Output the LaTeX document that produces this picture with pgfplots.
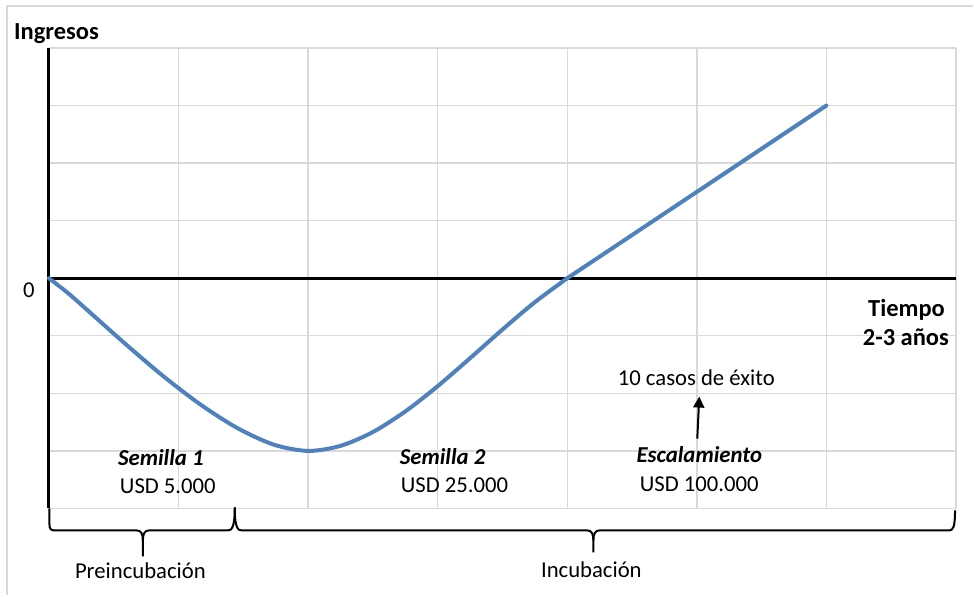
\documentclass[border=0pt]{standalone}
\usepackage{fontspec}
\setmainfont{Carlito}
\usepackage{pgfplots}
\pgfplotsset{compat=1.18}
\usetikzlibrary{arrows.meta}
\definecolor{curveblue}{RGB}{79,129,189}
\definecolor{gridgray}{RGB}{217,217,217}
\begin{document}
\begin{tikzpicture}
\path (0,0) rectangle (974pt,596pt);
\begin{axis}[
  at={(49pt,87pt)}, anchor=south west,
  scale only axis, width=908pt, height=461pt,
  xmin=0, xmax=7, ymin=-4, ymax=4,
  xtick={0,...,7}, ytick={-4,...,4},
  xticklabels={}, yticklabels={},
  major tick length=0pt,
  grid=major,
  major grid style={gridgray, line width=1.4pt},
  axis line style={draw=none},
  clip=false,
]
\draw[black, line width=3pt] (axis cs:0,-4) -- (axis cs:0,4);
\draw[black, line width=3pt] (axis cs:0,0) -- (axis cs:7,0);
\addplot[curveblue, line width=4pt, smooth, line cap=round, no markers] coordinates {
(0,0) (0.154,-0.272) (0.359,-0.680) (0.604,-1.169) (0.875,-1.688)
(1.162,-2.183) (1.453,-2.602) (1.736,-2.892) (2,-3)
(2.25,-2.912) (2.5,-2.672) (2.75,-2.314) (3,-1.875)
(3.25,-1.389) (3.5,-0.891) (3.75,-0.416) (4,0)
};
\addplot[curveblue, line width=4pt, line cap=round, no markers] coordinates {
(4,0) (6,3)
};
\end{axis}
\begin{scope}[x=1pt, y=-1pt, yshift=596pt]
  % outer frame (left and top)
  \draw[gridgray, line width=2pt] (7,596) -- (7,6) -- (974,6);
  % texts
  \fontsize{22.7}{26}\selectfont
  \node[anchor=base west, inner sep=0pt, font=\bfseries\fontsize{24.5}{28}\selectfont] at (14,39.5) {Ingresos};
  \node[anchor=base, inner sep=0pt] at (29,298) {0};
  \node[anchor=base east, inner sep=0pt, font=\bfseries\fontsize{24.5}{28}\selectfont] at (946,317) {Tiempo};
  \node[anchor=base east, inner sep=0pt, font=\bfseries\fontsize{24.5}{28}\selectfont] at (950,346) {2-3 años};
  \node[anchor=base, inner sep=0pt, font=\bfseries\itshape\fontsize{22.8}{26}\selectfont] at (161,466) {Semilla 1};
  \node[anchor=base, inner sep=0pt] at (168,494) {USD 5.000};
  \node[anchor=base, inner sep=0pt, font=\bfseries\itshape\fontsize{22.8}{26}\selectfont] at (443,465) {Semilla 2};
  \node[anchor=base, inner sep=0pt] at (455,493) {USD 25.000};
  \node[anchor=base, inner sep=0pt, font=\bfseries\itshape\fontsize{22.8}{26}\selectfont] at (700,463) {Escalamiento};
  \node[anchor=base, inner sep=0pt] at (700,492) {USD 100.000};
  \node[anchor=base, inner sep=0pt] at (697,386) {10 casos de éxito};
  \node[anchor=base, inner sep=0pt] at (140.5,579) {Preincubación};
  \node[anchor=base, inner sep=0pt] at (592,578) {Incubación};
  % arrow
  \draw[line width=2pt, -{Triangle[length=11pt,width=11pt]}] (698,439) -- (700,397);
  % braces
  \draw[line width=2pt, line join=round]
    (49.5,509) -- (49.5,525) .. controls (49.5,530) and (51,531) .. (56,531)
    -- (137,531) .. controls (141,531) and (143,534) .. (143,541) -- (143,557);
  \draw[line width=2pt, line join=round]
    (143,541) .. controls (143,534) and (145,531) .. (149,531)
    -- (228,531) .. controls (232,531) and (235,528) .. (235,508);
  \draw[line width=2pt, line join=round]
    (235,508) .. controls (235,528) and (238,531) .. (242,531)
    -- (588,531) .. controls (592,531) and (594,534) .. (594,541) -- (594,553);
  \draw[line width=2pt, line join=round]
    (594,541) .. controls (594,534) and (596,531) .. (600,531)
    -- (950,531) .. controls (954,531) and (956,528) .. (956,511);
\end{scope}
\end{tikzpicture}
\end{document}
